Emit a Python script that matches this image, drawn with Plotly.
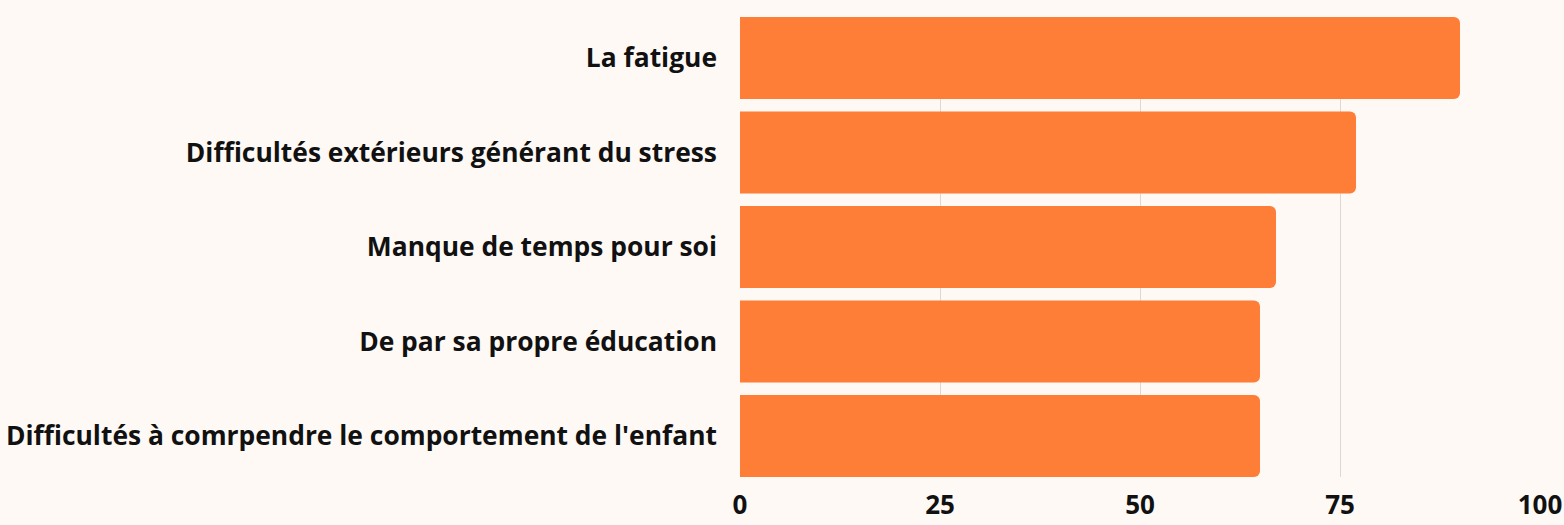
import plotly.graph_objects as go

categories = [
    "La fatigue",
    "Difficultés extérieurs générant du stress",
    "Manque de temps pour soi",
    "De par sa propre éducation",
    "Difficultés à comrpendre le comportement de l'enfant",
]
values = [90, 77, 67, 65, 65]
tick_vals = [0, 25, 50, 75, 100]

bg = "#FEF9F5"
bar_color = "#FE7D37"
gap = 0.133
font_family = "Open Sans, Inter, sans-serif"

fig = go.Figure(
    go.Bar(
        x=values,
        y=categories,
        orientation="h",
        marker=dict(color=bar_color, line=dict(width=0), cornerradius=6),
        hoverinfo="x+y",
    )
)

fig.update_layout(
    width=1564,
    height=525,
    paper_bgcolor=bg,
    plot_bgcolor=bg,
    margin=dict(l=740, r=24, t=17, b=48),
    bargap=gap,
    showlegend=False,
    font=dict(family=font_family, size=26, color="#111111", weight="bold"),
)
fig.update_xaxes(
    range=[0, 100],
    tickvals=tick_vals,
    showgrid=True,
    gridcolor="#DCD8D4",
    gridwidth=1,
    zeroline=False,
    showline=False,
    ticks="",
    automargin=False,
    ticklabeloverflow="allow",
    ticklabelstandoff=10,
    tickfont=dict(family=font_family, size=26, weight="bold", color="#111111"),
)
fig.update_yaxes(
    categoryorder="array",
    categoryarray=categories,
    range=[len(categories) - 0.5 - gap / 2, -0.5 + gap / 2],
    showgrid=False,
    zeroline=False,
    showline=False,
    ticks="",
    automargin=False,
    ticklabelstandoff=22,
    tickfont=dict(family=font_family, size=26.4, weight="bold", color="#111111"),
)

fig.write_html(
    "out.html",
    config={"displayModeBar": False},
    post_script="document.body.style.margin='0px';document.body.style.background='" + bg + "';",
)
